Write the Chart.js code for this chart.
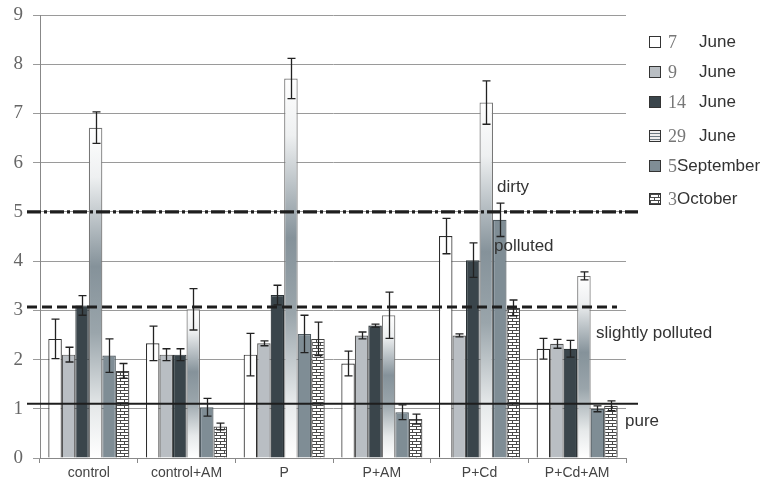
<!DOCTYPE html>
<html>
<head>
<meta charset="utf-8">
<script src="https://cdn.jsdelivr.net/npm/chart.js@4"></script>
<style>
  html, body { margin: 0; padding: 0; background: #fff; }
  #wrap { position: relative; width: 776px; height: 487px; }
  #legend { position: absolute; left: 0; top: 0; }
  .lg-row { position: absolute; left: 649px; height: 20px; white-space: nowrap; }
  .lg-box { position: absolute; left: 0; top: 4px; width: 10px; height: 10px; border: 1px solid #333; }
  .lg-day { position: absolute; left: 19px; top: 0; font: 18px "Liberation Serif", "DejaVu Serif", serif; color: #777; line-height: 20px; }
  .lg-month { position: absolute; top: 0; font: 17px "Liberation Sans", Arial, sans-serif; color: #333; line-height: 20px; }
</style>
</head>
<body>
<div id="wrap">
  <canvas id="chart" width="776" height="487"></canvas>
  <div id="legend"></div>
</div>
<script>
// Data
const categories = ['control', 'control+AM', 'P', 'P+AM', 'P+Cd', 'P+Cd+AM'];
const seriesDays = ['7', '9', '14', '29', '5', '3'];
const seriesMonths = ['June', 'June', 'June', 'June', 'September', 'October'];

const jun7  = [2.42, 2.33, 2.10, 1.92, 4.51, 2.22];
const jun9  = [2.10, 2.10, 2.33, 2.49, 2.49, 2.32];
const jun14 = [3.10, 2.10, 3.31, 2.69, 4.02, 2.22];
const jun29 = [6.71, 3.02, 7.71, 2.90, 7.22, 3.70];
const sep5  = [2.08, 1.03, 2.52, 0.93, 4.84, 1.00];
const oct3  = [1.77, 0.64, 2.42, 0.79, 3.05, 1.06];

const jun7Err  = [0.40, 0.35, 0.43, 0.25, 0.36, 0.21];
const jun9Err  = [0.15, 0.12, 0.05, 0.07, 0.03, 0.09];
const jun14Err = [0.20, 0.12, 0.20, 0.03, 0.35, 0.17];
const jun29Err = [0.32, 0.42, 0.41, 0.47, 0.44, 0.08];
const sep5Err  = [0.34, 0.18, 0.38, 0.15, 0.34, 0.06];
const oct3Err  = [0.15, 0.07, 0.34, 0.10, 0.16, 0.10];

const yTicks = [0, 1, 2, 3, 4, 5, 6, 7, 8, 9];

// quality thresholds: dirty / polluted boundary, polluted / slightly polluted, slightly polluted / pure
const thresholdValues = [5.0, 3.07, 1.1];
const zoneLabels = ['dirty', 'polluted', 'slightly polluted', 'pure'];
const zoneLabelValues = [5.49, 4.31, 2.54, 0.75];

const seriesValues = [jun7, jun9, jun14, jun29, sep5, oct3];
const seriesErrors = [jun7Err, jun9Err, jun14Err, jun29Err, sep5Err, oct3Err];

// Patterns
function brickPattern() {
  const c = document.createElement('canvas');
  c.width = 8; c.height = 6;
  const g = c.getContext('2d');
  g.fillStyle = '#fff';
  g.fillRect(0, 0, 8, 6);
  g.fillStyle = '#4a4a4a';
  g.fillRect(0, 0, 8, 1);
  g.fillRect(0, 3, 8, 1);
  g.fillRect(0, 0, 1, 3);
  g.fillRect(4, 3, 1, 3);
  return c;
}
const brickCanvas = brickPattern();
const brickFill = document.getElementById('chart').getContext('2d').createPattern(brickCanvas, 'repeat');

function fadeFill(ctx) {
  const chart = ctx.chart;
  const ys = chart.scales && chart.scales.y;
  if (!ys || !chart.chartArea || ctx.dataIndex === undefined) return '#aab3b8';
  const top = ys.getPixelForValue(jun29[ctx.dataIndex]);
  const bottom = ys.getPixelForValue(0);
  const g = chart.ctx.createLinearGradient(0, top, 0, bottom);
  g.addColorStop(0, '#ffffff');
  g.addColorStop(0.15, '#eef0f1');
  g.addColorStop(0.42, '#85929a');
  g.addColorStop(0.62, '#9aa5ab');
  g.addColorStop(0.85, '#e6e9ea');
  g.addColorStop(1, '#ffffff');
  return g;
}

const fills = ['#ffffff', '#b9bec3', '#3a454b', fadeFill, '#7f8d95', brickFill];
const borders = ['#2e2e2e', '#555', '#2a3236', '#777', '#4f5a60', '#444'];

// Error bars + threshold lines + zone labels
const overlayPlugin = {
  id: 'overlay',
  afterDatasetsDraw(chart) {
    const ctx = chart.ctx;
    const ys = chart.scales.y;
    ctx.save();

    // error bars
    ctx.strokeStyle = '#222';
    ctx.lineWidth = 1.3;
    seriesValues.forEach((vals, i) => {
      const meta = chart.getDatasetMeta(i);
      meta.data.forEach((bar, j) => {
        const x = Math.round(bar.x) + 0.5;
        const yt = ys.getPixelForValue(vals[j] + seriesErrors[i][j]);
        const yb = ys.getPixelForValue(vals[j] - seriesErrors[i][j]);
        ctx.beginPath();
        ctx.moveTo(x, yt); ctx.lineTo(x, yb);
        ctx.moveTo(x - 4, yt); ctx.lineTo(x + 4, yt);
        ctx.moveTo(x - 4, yb); ctx.lineTo(x + 4, yb);
        ctx.stroke();
      });
    });

    // threshold lines
    const lineStyles = [
      { dash: [14, 3, 3, 3], width: 3.2, x1: 27, x2: 638 },
      { dash: [10, 5], width: 3, x1: 27, x2: 617 },
      { dash: [], width: 2, x1: 27, x2: 638 }
    ];
    thresholdValues.forEach((v, k) => {
      const s = lineStyles[k];
      const y = ys.getPixelForValue(v);
      ctx.beginPath();
      ctx.setLineDash(s.dash);
      ctx.lineWidth = s.width;
      ctx.strokeStyle = '#1e1e1e';
      ctx.moveTo(s.x1, y);
      ctx.lineTo(s.x2, y);
      ctx.stroke();
    });
    ctx.setLineDash([]);

    // zone labels
    const labelX = [497, 494, 596, 625];
    ctx.fillStyle = '#333';
    ctx.font = '17px "Liberation Sans", Arial, sans-serif';
    ctx.textBaseline = 'middle';
    ctx.textAlign = 'left';
    zoneLabels.forEach((t, k) => {
      ctx.fillText(t, labelX[k], ys.getPixelForValue(zoneLabelValues[k]));
    });
    ctx.restore();
  }
};

new Chart(document.getElementById('chart'), {
  type: 'bar',
  data: {
    labels: categories,
    datasets: seriesValues.map((vals, i) => ({
      label: seriesDays[i] + ' ' + seriesMonths[i],
      data: vals,
      backgroundColor: fills[i],
      borderColor: borders[i],
      borderWidth: 1.2,
      categoryPercentage: 0.83,
      barPercentage: 1.0
    }))
  },
  options: {
    responsive: false,
    animation: false,
    layout: { padding: { left: 0, right: 150, top: 15, bottom: 0 } },
    plugins: { legend: { display: false }, tooltip: { enabled: false } },
    scales: {
      y: {
        min: 0,
        max: 9,
        afterBuildTicks: s => { s.ticks = yTicks.map(v => ({ value: v })); },
        afterFit: s => { s.width = 40; s.paddingTop = 0; s.paddingBottom = 0; },
        ticks: {
          color: '#666',
          padding: 10,
          font: { family: '"Liberation Serif", "DejaVu Serif", serif', size: 19 }
        },
        grid: { color: '#9a9a9a', lineWidth: 1, tickLength: 7 },
        border: { color: '#888', width: 1 }
      },
      x: {
        afterFit: s => { s.height = 29; s.paddingLeft = 0; s.paddingRight = 0; },
        ticks: {
          color: '#444',
          padding: 2,
          font: { family: '"Liberation Sans", Arial, sans-serif', size: 14 }
        },
        grid: { offset: true, drawOnChartArea: false, color: '#888', tickLength: 5 },
        border: { color: '#888', width: 1 }
      }
    }
  },
  plugins: [overlayPlugin]
});

// Legend
const legendRowY = [32, 62, 92, 126, 156, 189];
const legendBg = [
  '#ffffff',
  '#b9bec3',
  '#3a454b',
  'repeating-linear-gradient(#eee 0px, #eee 2px, #6d7a82 2px, #6d7a82 3px)',
  '#7f8d95',
  'url(' + brickCanvas.toDataURL() + ')'
];
const legend = document.getElementById('legend');
seriesDays.forEach((d, i) => {
  const row = document.createElement('div');
  row.className = 'lg-row';
  row.style.top = legendRowY[i] + 'px';
  const box = document.createElement('span');
  box.className = 'lg-box';
  box.style.background = legendBg[i];
  const day = document.createElement('span');
  day.className = 'lg-day';
  day.textContent = d;
  const month = document.createElement('span');
  month.className = 'lg-month';
  month.textContent = seriesMonths[i];
  month.style.left = seriesMonths[i].length > 4 ? (19 + 9 * d.length) + 'px' : '50px';
  row.appendChild(box);
  row.appendChild(day);
  row.appendChild(month);
  legend.appendChild(row);
});
</script>
</body>
</html>
